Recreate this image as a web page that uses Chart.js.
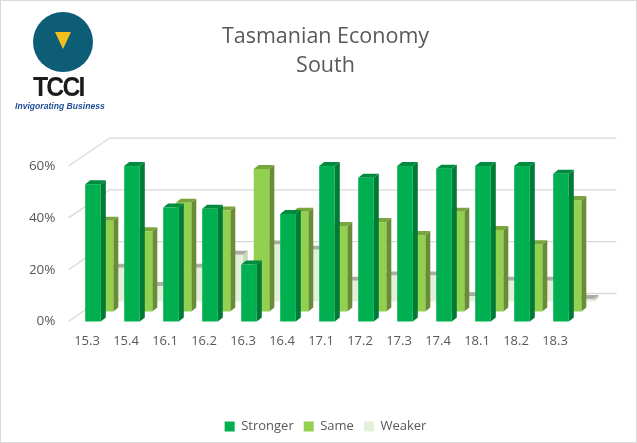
<!DOCTYPE html>
<html>
<head>
<meta charset="utf-8">
<title>Tasmanian Economy South</title>
<script src="https://cdn.jsdelivr.net/npm/chart.js@4.4.0/dist/chart.umd.min.js"></script>
<style>
  html, body { margin: 0; padding: 0; background: #fff; }
  #wrap { position: relative; width: 637px; height: 443px; overflow: hidden; }
  #frame { position: absolute; left: 0; top: 0; width: 635px; height: 441px; border: 1px solid #d9d9d9; pointer-events: none; }
  .logo-circle { position: absolute; left: 33px; top: 12px; width: 60px; height: 60px; border-radius: 50%; background: #0e5d77; }
  .logo-tri { position: absolute; left: 55px; top: 32px; width: 0; height: 0;
              border-left: 8.5px solid transparent; border-right: 8.5px solid transparent; border-top: 17px solid #f3bf1c; }
  .logo-name { position: absolute; left: 33px; top: 72px; font: bold 27px "Liberation Sans", Arial, sans-serif; color: #1b1b1b; letter-spacing: -2px; transform: scaleX(0.92); transform-origin: left top; }
  .logo-tag { position: absolute; left: 15px; top: 101px; font: italic bold 8.6px "Liberation Sans", Arial, sans-serif; color: #1f4e96; white-space: nowrap; }
</style>
</head>
<body>
<div id="wrap">
  <canvas id="chart" width="637" height="443"></canvas>
  <div class="logo-circle"></div>
  <div class="logo-tri"></div>
  <div class="logo-name">TCCI</div>
  <div class="logo-tag">Invigorating Business</div>
  <div id="frame"></div>
</div>
<script>
// quarters on the x axis
const quarters = ['15.3', '15.4', '16.1', '16.2', '16.3', '16.4', '17.1', '17.2', '17.3', '17.4', '18.1', '18.2', '18.3'];

// series values in percent
const stronger = [53, 60, 44, 43.5, 22, 41.5, 60, 55.5, 60, 59, 60, 60, 57];
const same = [35, 31, 42, 39, 55, 38.5, 33, 34.5, 29.5, 38.5, 31.5, 26, 43];
const weaker = [13, 6, 13, 18, 22, 20, 8, 10, 10, 2, 8, 8, 1];

const yTicks = [0, 20, 40, 60];

// faces of the fake 3D columns: front, side, top
const FACES = [
    { front: '#00b050', side: '#007a37', top: '#008b3f' },
    { front: '#92d050', side: '#6a8c36', top: '#78a63c' },
    { front: '#e2efda', side: '#c9d8bf', top: '#a9ada4' }
];
// each row sits further back: shift right and up
const ROW_SHIFT = [{ dx: 6, dy: 0 }, { dx: 18.5, dy: -10 }, { dx: 31, dy: -20 }];
const BAR_DEPTH = { dx: 5, dy: -4 };
const WALL = { dx: 42, dy: -28 };

Chart.defaults.font.family = "'Open Sans', 'Noto Sans', sans-serif";
Chart.defaults.color = '#595959';

function drawPrism(ctx, x0, x1, top, base, f) {
    const d = BAR_DEPTH;
    ctx.fillStyle = f.side;
    ctx.beginPath();
    ctx.moveTo(x1, top);
    ctx.lineTo(x1 + d.dx, top + d.dy);
    ctx.lineTo(x1 + d.dx, base + d.dy);
    ctx.lineTo(x1, base);
    ctx.closePath();
    ctx.fill();

    ctx.fillStyle = f.top;
    ctx.beginPath();
    ctx.moveTo(x0, top);
    ctx.lineTo(x1, top);
    ctx.lineTo(x1 + d.dx, top + d.dy);
    ctx.lineTo(x0 + d.dx, top + d.dy);
    ctx.closePath();
    ctx.fill();

    ctx.fillStyle = f.front;
    ctx.fillRect(x0, top, x1 - x0, base - top);
}

const fake3d = {
    id: 'fake3d',
    beforeDatasetsDraw(chart) {
        const ctx = chart.ctx;
        const area = chart.chartArea;
        const y = chart.scales.y;

        // walls: diagonal side lines + back wall gridlines
        ctx.save();
        ctx.strokeStyle = '#d9d9d9';
        ctx.lineWidth = 1.3;
        yTicks.forEach(v => {
            const py = y.getPixelForValue(v);
            ctx.beginPath();
            ctx.moveTo(area.left + 1, py);
            ctx.lineTo(area.left + WALL.dx, py + WALL.dy);
            ctx.lineTo(area.right + WALL.dx, py + WALL.dy);
            ctx.stroke();
        });

        // back row first, front row last
        [2, 1, 0].forEach(i => {
            const meta = chart.getDatasetMeta(i);
            const s = ROW_SHIFT[i];
            meta.data.forEach(el => {
                const half = el.width / 2;
                const cx = el.x + s.dx;
                drawPrism(ctx, cx - half, cx + half, el.y + s.dy, el.base + s.dy, FACES[i]);
            });
        });
        ctx.restore();
        return false;
    }
};

new Chart(document.getElementById('chart'), {
    type: 'bar',
    data: {
        labels: quarters,
        datasets: [
            { label: 'Stronger', data: stronger, backgroundColor: FACES[0].front },
            { label: 'Same', data: same, backgroundColor: FACES[1].front },
            { label: 'Weaker', data: weaker, backgroundColor: FACES[2].front }
        ]
    },
    options: {
        responsive: false,
        animation: false,
        layout: { padding: { left: 14, right: 0, top: 0, bottom: 0 } },
        datasets: {
            bar: { grouped: false, barPercentage: 0.4, categoryPercentage: 1, borderWidth: 0 }
        },
        plugins: {
            tooltip: { enabled: false },
            title: {
                display: true,
                text: ['Tasmanian Economy', 'South'],
                color: '#595959',
                font: { size: 21.5, weight: 'normal', lineHeight: 1.35 },
                padding: { top: 22.5, bottom: 85.5 }
            },
            legend: {
                position: 'bottom',
                labels: { boxWidth: 10, boxHeight: 10, padding: 10, font: { size: 13 }, color: '#595959' }
            }
        },
        scales: {
            x: {
                grid: { display: false, drawTicks: false },
                border: { display: false },
                ticks: { padding: 12, font: { size: 13 }, color: '#595959' },
                afterFit(axis) { axis.height = 88.5; }
            },
            y: {
                min: 0,
                max: 60,
                grid: { display: false, drawTicks: false },
                border: { display: false },
                ticks: { stepSize: 20, padding: 12, font: { size: 13.5 }, color: '#595959', callback: v => v + '%' },
                afterFit(axis) { axis.width = 53.5; }
            },
            ySpacer: {
                type: 'linear',
                position: 'right',
                grid: { display: false, drawTicks: false },
                border: { display: false },
                ticks: { display: false },
                afterFit(axis) { axis.width = 62.5; }
            }
        }
    },
    plugins: [fake3d]
});
</script>
</body>
</html>
